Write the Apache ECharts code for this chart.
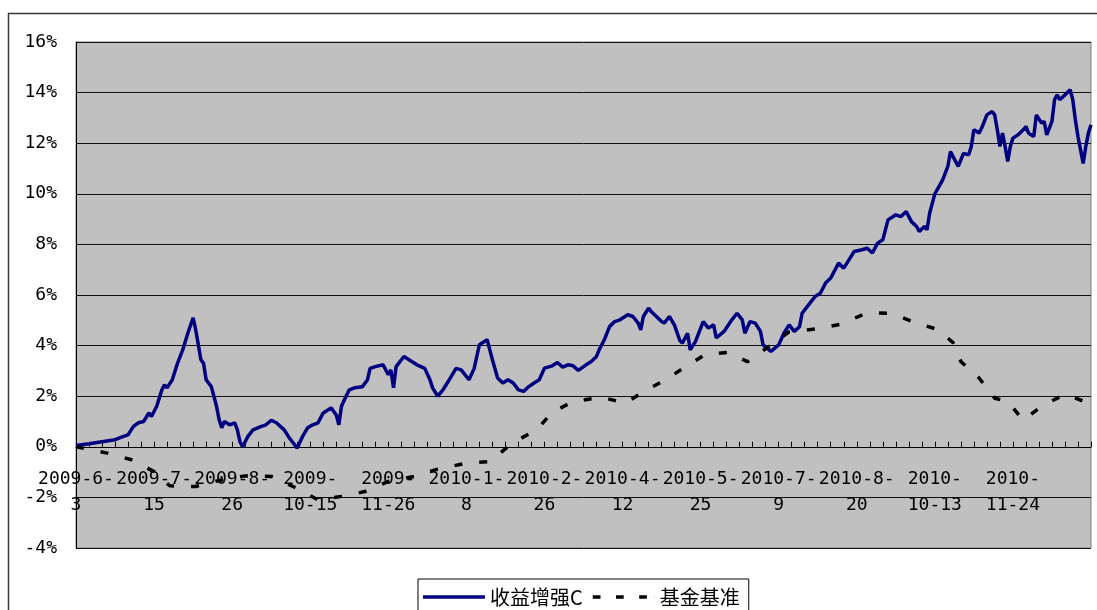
<!DOCTYPE html>
<html>
<head>
<meta charset="utf-8">
<script src="https://cdn.jsdelivr.net/npm/echarts/dist/echarts.min.js"></script>
<style>
  html, body { margin: 0; padding: 0; background: #ffffff; }
  #chart { width: 1097px; height: 610px; }
</style>
</head>
<body>
<div id="chart"></div>
<script>
// x: trading-day index since 2009-6-3; tick labels every 30 trading days
const tickLabels = ['2009-6-3','2009-7-15','2009-8-26','2009-10-15','2009-11-26','2010-1-8','2010-2-26','2010-4-12','2010-5-25','2010-7-9','2010-8-20','2010-10-13','2010-11-24'];
const seriesNames = ['收益增强C', '基金基准'];

// 收益增强C  [trading day, return %]
const enhancedC = [
  [0,0.05],[5,0.12],[10,0.2],[15,0.28],[18,0.4],[20,0.47],[22,0.8],[24,0.95],[26,1.0],[28,1.34],
  [29,1.2],[31,1.6],[33,2.25],[34,2.45],[35,2.33],[37,2.65],[39,3.3],[41,3.83],[43,4.5],[45,5.1],
  [46,4.62],[48,3.44],[49,3.3],[50,2.65],[52,2.38],[54,1.6],[55,1.07],[56,0.75],[57,1.0],[59,0.87],
  [61,0.95],[62,0.67],[63,0.2],[64,0.0],[66,0.4],[68,0.67],[71,0.8],[73,0.87],[75,1.05],[77,0.95],
  [80,0.67],[82,0.35],[85,-0.05],[87,0.4],[89,0.75],[91,0.87],[93,0.95],[95,1.34],[96,1.4],[98,1.54],
  [100,1.26],[101,0.87],[102,1.6],[104,2.05],[105,2.25],[107,2.33],[110,2.37],[112,2.65],[113,3.1],[115,3.17],
  [118,3.24],[120,2.85],[121,3.04],[122,2.33],[123,3.17],[126,3.57],[129,3.37],[131,3.24],[134,3.1],[136,2.65],
  [137,2.33],[139,2.0],[141,2.25],[143,2.58],[146,3.1],[148,3.04],[151,2.65],[153,3.1],[154,3.57],[155,4.03],
  [158,4.23],[159,3.83],[160,3.44],[162,2.72],[164,2.52],[166,2.65],[168,2.52],[170,2.25],[172,2.19],[174,2.38],
  [176,2.52],[178,2.65],[180,3.11],[183,3.2],[185,3.33],[187,3.15],[189,3.24],[191,3.2],[193,3.02],[196,3.24],
  [198,3.37],[200,3.57],[201,3.83],[203,4.23],[205,4.75],[207,4.95],[209,5.02],[212,5.22],[214,5.15],[216,4.89],
  [217,4.62],[218,5.15],[220,5.48],[221,5.35],[223,5.15],[225,4.95],[226,4.89],[228,5.15],[230,4.8],[232,4.2],
  [233,4.1],[235,4.49],[236,3.83],[238,4.16],[241,4.95],[243,4.69],[245,4.82],[246,4.3],[249,4.56],[252,5.02],
  [254,5.28],[256,5.02],[257,4.49],[259,4.95],[261,4.89],[263,4.56],[264,4.03],[267,3.77],[270,4.03],[272,4.49],
  [274,4.82],[276,4.56],[278,4.75],[279,5.28],[282,5.68],[284,5.94],[286,6.07],[288,6.47],[290,6.67],[292,7.06],
  [293,7.26],[295,7.06],[297,7.39],[299,7.72],[302,7.79],[304,7.85],[306,7.66],[308,8.05],[310,8.18],[312,8.97],
  [315,9.17],[317,9.1],[319,9.3],[321,8.9],[323,8.71],[324,8.51],[326,8.71],[327,8.58],[328,9.23],[330,10.0],
  [332,10.36],[333,10.55],[335,11.08],[336,11.67],[337,11.47],[339,11.08],[341,11.6],[343,11.54],[344,11.87],[345,12.53],
  [347,12.4],[348,12.6],[350,13.12],[352,13.25],[353,13.12],[354,12.53],[355,11.87],[356,12.4],[357,11.87],[358,11.28],
  [359,11.87],[360,12.2],[362,12.33],[364,12.53],[365,12.66],[366,12.4],[368,12.26],[369,13.12],[371,12.8],[372,12.86],
  [373,12.33],[375,12.86],[376,13.72],[377,13.91],[378,13.72],[380,13.91],[382,14.11],[383,13.72],[384,12.92],[385,12.26],
  [387,11.2],[388,11.87],[389,12.4],[390,12.73]
];

// 基金基准  [trading day, return %]
const benchmark = [
  [0,0],[12,-0.25],[21,-0.5],[30,-0.98],[36,-1.54],[46,-1.57],[55,-1.33],[65,-1.15],[75,-1.17],[84,-1.6],
  [93,-2.1],[102,-1.96],[111,-1.77],[120,-1.37],[130,-1.17],[139,-0.88],[150,-0.65],[159,-0.58],[168,0.17],[177,0.67],
  [183,1.36],[191,1.79],[202,1.96],[211,1.72],[219,2.23],[227,2.68],[235,3.22],[242,3.66],[251,3.73],[258,3.36],
  [266,3.95],[274,4.54],[285,4.67],[294,4.85],[304,5.3],[313,5.28],[323,4.89],[331,4.64],[337,4.12],[340,3.37],
  [347,2.72],[353,1.92],[358,1.79],[364,1.05],[371,1.6],[380,2.08],[388,1.77],[390,1.9]
];

const yTicks = { min: -4, max: 16, step: 2 };
const dayRange = { max: 390, tickStep: 5, labelStep: 30 };

function wrapDate(d) {
  const p = d.split('-');
  return p[1].length === 2 ? p[0] + '-\n' + p[1] + '-' + p[2] : p[0] + '-' + p[1] + '-\n' + p[2];
}

const gridBox = { left: 76, right: 6, top: 42, bottom: 62 };
const plotHeight = 610 - gridBox.top - gridBox.bottom;
// place the category axis on the 0% line (as in the reference)
const zeroOffset = -plotHeight * (0 - yTicks.min) / (yTicks.max - yTicks.min);

const monoFont = 'DejaVu Sans Mono';
const chart = echarts.init(document.getElementById('chart'), null, { renderer: 'canvas' });
chart.setOption({
  animation: false,
  backgroundColor: '#ffffff',
  graphic: [{
    type: 'rect',
    shape: { x: 8.5, y: 13.5, width: 1200, height: 700 },
    style: { fill: 'none', stroke: '#3a3a3a', lineWidth: 1.5 },
    silent: true
  }],
  grid: {
    left: gridBox.left, right: gridBox.right, top: gridBox.top, bottom: gridBox.bottom,
    show: true, backgroundColor: '#c0c0c0', borderColor: '#808080', borderWidth: 1,
    containLabel: false, outerBoundsMode: 'none'
  },
  legend: {
    data: [
      { name: seriesNames[0], icon: 'path://M0,0H64V3.4H0Z' },
      { name: seriesNames[1], icon: 'path://M0,0H8V3.4H0Z M24,0H32V3.4H24Z M48,0H56V3.4H48Z M64,0H64.1V3.4H64Z' }
    ],
    left: 418, top: 579,
    orient: 'horizontal',
    backgroundColor: '#ffffff',
    borderColor: '#000000', borderWidth: 1, borderRadius: 0,
    padding: [6, 9, 6, 5],
    itemWidth: 62, itemHeight: 14, itemGap: 10,
    symbolKeepAspect: true,
    textStyle: { fontFamily: 'Noto Sans CJK SC', fontSize: 20, color: '#000', lineHeight: 24 }
  },
  xAxis: {
    type: 'value',
    position: 'bottom',
    offset: zeroOffset,
    min: 0, max: dayRange.max, interval: dayRange.tickStep,
    axisLine: { show: true, onZero: false, lineStyle: { color: '#000', width: 1 } },
    axisTick: { show: true, inside: true, length: 5, lineStyle: { color: '#000', width: 1 } },
    splitLine: { show: false },
    axisLabel: {
      margin: 20,
      color: '#000',
      fontFamily: monoFont, fontSize: 18, lineHeight: 26,
      align: 'center',
      formatter: function (v) {
        if (v % dayRange.labelStep !== 0) return '';
        const i = v / dayRange.labelStep;
        return i < tickLabels.length ? wrapDate(tickLabels[i]) : '';
      }
    }
  },
  yAxis: {
    type: 'value',
    min: yTicks.min, max: yTicks.max, interval: yTicks.step,
    axisLine: { show: true, onZero: false, lineStyle: { color: '#000', width: 1 } },
    axisTick: { show: false },
    splitLine: { show: true, lineStyle: { color: '#111', width: 1 } },
    axisLabel: {
      margin: 19, color: '#000', fontFamily: monoFont, fontSize: 18,
      formatter: '{value}%'
    }
  },
  series: [
    {
      name: seriesNames[0], type: 'line', data: enhancedC,
      symbol: 'none', smooth: false,
      lineStyle: { color: '#000080', width: 3.5 },
      itemStyle: { color: '#000080' }
    },
    {
      name: seriesNames[1], type: 'line', data: benchmark,
      symbol: 'none', smooth: false,
      lineStyle: { color: '#000000', width: 3.5, type: [8, 17] },
      itemStyle: { color: '#000000' }
    }
  ]
});
</script>
</body>
</html>
